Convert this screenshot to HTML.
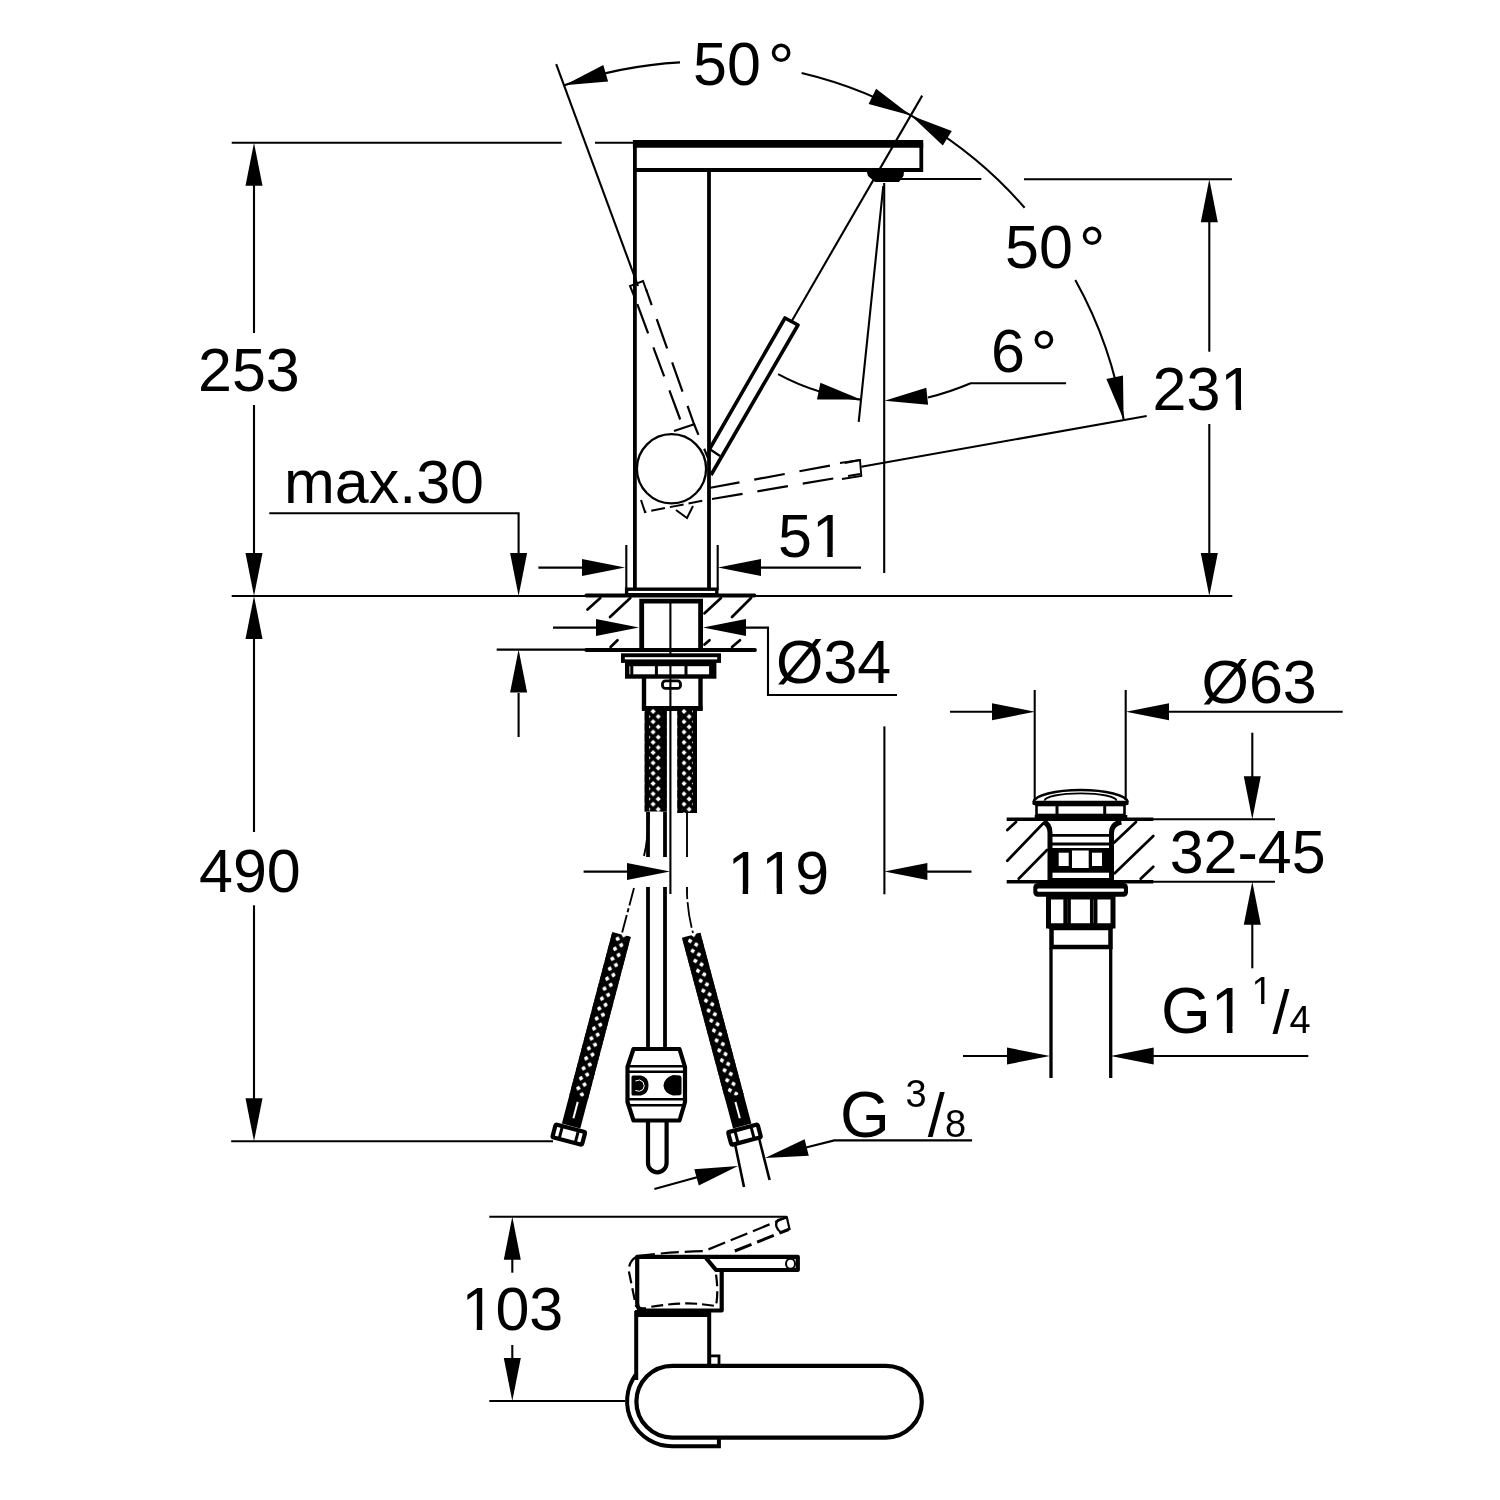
<!DOCTYPE html>
<html><head><meta charset="utf-8"><title>Dimensional drawing</title>
<style>
html,body{margin:0;padding:0;background:#fff}
svg{display:block;font-family:"Liberation Sans",sans-serif}
svg text{stroke:none;fill:#000;font-kerning:none}
svg .f{fill:#000;stroke:none}
</style></head><body>
<svg width="1500" height="1500" viewBox="0 0 1500 1500">
<defs>
<pattern id="br" x="647.95" y="706.3" width="10.3" height="10.3" patternUnits="userSpaceOnUse">
<rect width="10.3" height="10.3" fill="#000" stroke="none"/>
<path d="M5.15,2.55 L7.75,5.15 L5.15,7.75 L2.55,5.15 Z M0,-2.6 L2.6,0 L0,2.6 L-2.6,0 Z M10.3,-2.6 L12.9,0 L10.3,2.6 L7.7,0 Z M0,7.7 L2.6,10.3 L0,12.9 L-2.6,10.3 Z M10.3,7.7 L12.9,10.3 L10.3,12.9 L7.7,10.3 Z" fill="#fff" stroke="none"/>
</pattern>
<pattern id="br2" x="-7.8" y="0" width="10.3" height="10.3" patternUnits="userSpaceOnUse">
<rect width="10.3" height="10.3" fill="#000" stroke="none"/>
<path d="M5.15,2.55 L7.75,5.15 L5.15,7.75 L2.55,5.15 Z M0,-2.6 L2.6,0 L0,2.6 L-2.6,0 Z M10.3,-2.6 L12.9,0 L10.3,2.6 L7.7,0 Z M0,7.7 L2.6,10.3 L0,12.9 L-2.6,10.3 Z M10.3,7.7 L12.9,10.3 L10.3,12.9 L7.7,10.3 Z" fill="#fff" stroke="none"/>
</pattern>
<filter id="soft" x="0" y="0" width="1500" height="1500" filterUnits="userSpaceOnUse"><feGaussianBlur stdDeviation="0.45"/></filter>
</defs>
<rect x="0" y="0" width="1500" height="1500" style="fill:#fff;stroke:none"/>
<g stroke="#000" fill="none" filter="url(#soft)">
<line x1="231.7" y1="142.7" x2="561.7" y2="142.7" stroke-width="2.1" />
<line x1="595.0" y1="142.7" x2="634.0" y2="142.7" stroke-width="2.1" />
<line x1="231.7" y1="596.0" x2="586.0" y2="596.0" stroke-width="2.1" />
<line x1="755.0" y1="596.0" x2="1232.3" y2="596.0" stroke-width="2.1" />
<line x1="231.2" y1="1141.3" x2="553.0" y2="1141.3" stroke-width="2.1" />
<polygon class="f" points="254.0,142.7 262.5,185.7 245.5,185.7"/>
<line x1="254.0" y1="184.0" x2="254.0" y2="333.0" stroke-width="2.1" />
<line x1="254.0" y1="405.0" x2="254.0" y2="553.0" stroke-width="2.1" />
<polygon class="f" points="254.0,596.0 245.5,553.0 262.5,553.0"/>
<polygon class="f" points="254.0,596.0 262.5,639.0 245.5,639.0"/>
<line x1="254.0" y1="638.0" x2="254.0" y2="832.0" stroke-width="2.1" />
<line x1="254.0" y1="905.3" x2="254.0" y2="1099.0" stroke-width="2.1" />
<polygon class="f" points="254.0,1141.3 245.5,1098.3 262.5,1098.3"/>
<text x="198.0" y="391.1" font-size="61" >253</text>
<text x="199.0" y="891.5" font-size="61" >490</text>
<text x="284.0" y="502.5" font-size="61" >max.30</text>
<polyline points="269.3,513.3 518.6,513.3 518.6,553.0" stroke-width="2.1" />
<polygon class="f" points="518.6,596.0 510.1,553.0 527.1,553.0"/>
<polygon class="f" points="518.6,649.6 527.1,692.6 510.1,692.6"/>
<line x1="518.6" y1="693.0" x2="518.6" y2="737.0" stroke-width="2.1" />
<line x1="496.7" y1="649.6" x2="586.0" y2="649.6" stroke-width="2.1" />
<line x1="1024.0" y1="179.3" x2="1232.0" y2="179.3" stroke-width="2.1" />
<polygon class="f" points="1209.3,179.3 1217.8,222.3 1200.8,222.3"/>
<line x1="1209.3" y1="221.0" x2="1209.3" y2="351.7" stroke-width="2.1" />
<line x1="1209.3" y1="424.0" x2="1209.3" y2="553.0" stroke-width="2.1" />
<polygon class="f" points="1209.3,596.0 1200.8,553.0 1217.8,553.0"/>
<text x="1152.5" y="410.1" font-size="61" >231</text>
<path d="M564.4,85.3 A425.0,425.0 0 0 1 680.0,62.4" stroke-width="2.1" />
<path d="M801.6,73.1 A425.0,425.0 0 0 1 1024.6,207.7" stroke-width="2.1" />
<path d="M1075.3,280.0 A425.0,425.0 0 0 1 1123.6,419.4" stroke-width="2.1" />
<polygon class="f" points="564.4,85.3 603.3,65.1 608.1,81.4"/>
<polygon class="f" points="910.9,115.4 868.6,104.1 876.1,88.8"/>
<polygon class="f" points="910.9,115.4 951.8,131.0 942.8,145.4"/>
<polygon class="f" points="1123.6,419.4 1106.4,379.1 1123.0,375.6"/>
<line x1="556.2" y1="64.2" x2="638.0" y2="286.0" stroke-width="2.1" />
<line x1="922.2" y1="95.6" x2="791.5" y2="321.5" stroke-width="2.1" />
<line x1="861.3" y1="466.7" x2="1146.7" y2="416.0" stroke-width="2.1" />
<text x="693.0" y="84.6" font-size="61" >50<tspan dx="7" dy="5" font-size="67">°</tspan></text>
<text x="1005.0" y="267.5" font-size="61" >50<tspan dx="6" dy="5" font-size="67">°</tspan></text>
<path d="M778.1,374.1 A220.2,220.2 0 0 0 860.8,399.6" stroke-width="2.1" />
<polygon class="f" points="860.8,399.6 817.0,399.4 820.4,382.8"/>
<polygon class="f" points="884.5,400.7 926.3,387.8 928.1,404.7"/>
<path d="M928,397.5 Q950,392 970.7,383.2 L1066.1,383.2" stroke-width="2.1" />
<line x1="883.3" y1="186.0" x2="858.7" y2="421.9" stroke-width="2.1" />
<line x1="884.2" y1="183.0" x2="884.2" y2="573.0" stroke-width="2.1" />
<line x1="884.4" y1="726.4" x2="884.4" y2="894.3" stroke-width="2.1" />
<text x="991.0" y="372.3" font-size="61" >6<tspan dx="5.5" dy="5" font-size="67">°</tspan></text>
<line x1="632.9" y1="143.8" x2="923.2" y2="143.8" stroke-width="7.8" />
<polyline points="634.9,143.0 634.9,589.0" stroke-width="3.8" />
<polyline points="634.9,170.0 921.3,170.0 921.3,143.0" stroke-width="3.8" />
<line x1="709.0" y1="170.0" x2="709.0" y2="589.0" stroke-width="3.8" />
<polygon class="f" points="866.7,171.5 904,171.5 903.5,176 899,182 875,182 868,176"/>
<line x1="899.0" y1="179.0" x2="981.3" y2="179.0" stroke-width="2.1" />
<circle cx="671.5" cy="468.8" r="34.6" stroke-width="2.3"/>
<polyline points="709.6,449.0 785.0,318.0 798.0,325.0 711.0,475.0" stroke-width="3.6" stroke-linejoin="round"/>
<line x1="709.6" y1="449.0" x2="720.0" y2="456.0" stroke-width="2.2" />
<polyline points="683.0,427.0 633.5,294.0" stroke-width="2.2" stroke-dasharray="31 15" stroke-dashoffset="38"/>
<polyline points="634.5,297.0 630.0,286.0 643.0,281.0 647.0,292.0" stroke-width="2" />
<polyline points="646.0,289.0 694.0,424.0 708.0,458.0" stroke-width="2.2" stroke-dasharray="31 15" stroke-dashoffset="14"/>
<line x1="674.0" y1="431.0" x2="695.0" y2="424.0" stroke-width="2.2" />
<polyline points="709.0,488.0 860.0,460.0" stroke-width="2.2" stroke-dasharray="31 15"/>
<polyline points="712.0,499.0 860.0,474.0" stroke-width="2.2" stroke-dasharray="31 15"/>
<polyline points="840.0,463.0 860.0,460.0 861.3,476.0 842.0,479.0" stroke-width="1.9" />
<polyline points="641.0,500.0 645.0,512.0 706.0,500.0" stroke-width="2" stroke-dasharray="14 5"/>
<polyline points="676.0,510.0 687.0,518.0 693.0,506.0" stroke-width="2" />
<rect x="626.6" y="589.2" width="90.2" height="5.5" stroke-width="3.4" />
<line x1="626.3" y1="545.0" x2="626.3" y2="590.0" stroke-width="2.1" />
<line x1="717.7" y1="545.0" x2="717.7" y2="590.0" stroke-width="2.1" />
<line x1="538.4" y1="567.6" x2="583.0" y2="567.6" stroke-width="2.1" />
<polygon class="f" points="625.0,567.6 582.0,576.1 582.0,559.1"/>
<polygon class="f" points="718.0,567.6 761.0,559.1 761.0,576.1"/>
<line x1="760.0" y1="567.6" x2="861.0" y2="567.6" stroke-width="2.1" />
<text x="778.0" y="556.8" font-size="61" >51</text>
<line x1="586.3" y1="595.5" x2="754.5" y2="595.5" stroke-width="3.8" stroke-linecap="round"/>
<line x1="586.3" y1="650.0" x2="755.0" y2="650.0" stroke-width="3.8" stroke-linecap="round"/>
<line x1="587.5" y1="609.5" x2="600.3" y2="598.0" stroke-width="2.7" stroke-linecap="round"/>
<line x1="610.0" y1="617.0" x2="630.3" y2="598.0" stroke-width="2.7" stroke-linecap="round"/>
<line x1="610.6" y1="647.0" x2="617.5" y2="640.2" stroke-width="2.7" stroke-linecap="round"/>
<line x1="704.5" y1="613.3" x2="721.0" y2="598.0" stroke-width="2.7" stroke-linecap="round"/>
<line x1="732.0" y1="617.0" x2="751.0" y2="598.0" stroke-width="2.7" stroke-linecap="round"/>
<line x1="704.5" y1="644.6" x2="709.5" y2="640.2" stroke-width="2.7" stroke-linecap="round"/>
<line x1="732.0" y1="647.0" x2="740.0" y2="640.3" stroke-width="2.7" stroke-linecap="round"/>
<polyline points="641.7,649.0 641.7,601.2 700.6,601.2 700.6,649.0" stroke-width="4.8" />
<line x1="670.4" y1="602.0" x2="670.4" y2="894.0" stroke-width="2.1" />
<line x1="553.0" y1="627.6" x2="598.0" y2="627.6" stroke-width="2.1" />
<polygon class="f" points="639.0,627.6 596.0,636.1 596.0,619.1"/>
<polygon class="f" points="703.0,627.6 746.0,619.1 746.0,636.1"/>
<polyline points="744.0,627.6 768.0,627.6 768.0,695.0 897.0,695.0" stroke-width="2.1" />
<text x="776.0" y="682.5" font-size="61" >Ø34</text>
<rect class="f" x="621" y="653.3" width="100" height="9.6"/>
<rect x="624.8" y="657.2" width="92.4" height="2.2" fill="#fff" stroke="none"/>
<rect x="627.2" y="664.0" width="87.0" height="12.5" stroke-width="4.4" />
<line x1="631.8" y1="662.0" x2="631.8" y2="676.0" stroke-width="3" />
<line x1="656.4" y1="662.0" x2="656.4" y2="676.0" stroke-width="3" />
<line x1="686.0" y1="662.0" x2="686.0" y2="676.0" stroke-width="3" />
<line x1="710.6" y1="662.0" x2="710.6" y2="676.0" stroke-width="3" />
<polyline points="644.0,677.0 644.0,708.2 700.5,708.2 700.5,677.0" stroke-width="4.4" />
<line x1="642.0" y1="708.5" x2="702.5" y2="708.5" stroke-width="5" />
<rect x="662.5" y="680.8" width="18" height="7.6" rx="3" stroke-width="2.8"/>
<rect x="644.7" y="709" width="22" height="102.5" stroke="none" fill="url(#br)"/>
<line x1="646.9" y1="709.0" x2="646.9" y2="811.5" stroke-width="4.4" />
<line x1="663.9" y1="709.0" x2="663.9" y2="811.5" stroke-width="5.6" />
<rect x="677.4" y="709" width="19.6" height="104" stroke="none" fill="url(#br)"/>
<line x1="679.5" y1="709.0" x2="679.5" y2="813.0" stroke-width="4.2" />
<line x1="694.9" y1="709.0" x2="694.9" y2="813.0" stroke-width="4.2" />
<line x1="648.0" y1="812.0" x2="648.0" y2="857.0" stroke-width="3.8" />
<line x1="665.0" y1="812.0" x2="665.0" y2="857.0" stroke-width="3.8" />
<line x1="648.0" y1="887.0" x2="648.0" y2="1047.0" stroke-width="3.8" />
<line x1="665.0" y1="887.0" x2="665.0" y2="1047.0" stroke-width="3.8" />
<line x1="687.0" y1="812.0" x2="687.0" y2="857.0" stroke-width="1.9" />
<line x1="687.0" y1="887.0" x2="687.0" y2="894.0" stroke-width="1.9" />
<path d="M687,894 Q688,915 693,933" stroke-width="1.8" stroke-dasharray="5 3 26 3"/>
<path d="M649,812 Q648,840 644,856" stroke-width="1.9" />
<path d="M634,888 L622,933" stroke-width="1.9" stroke-dasharray="18 3 4 3"/>
<line x1="583.6" y1="871.6" x2="628.0" y2="871.6" stroke-width="2.1" />
<polygon class="f" points="670.0,871.6 627.0,880.1 627.0,863.1"/>
<polygon class="f" points="884.4,871.6 927.4,863.1 927.4,880.1"/>
<line x1="926.0" y1="871.6" x2="971.5" y2="871.6" stroke-width="2.1" />
<text x="727.4" y="893.8" font-size="61" >119</text>
<g transform="translate(621.5,934.5) rotate(14.75)">
<rect x="-9.50" y="0" width="19.0" height="168.0" stroke="none" fill="url(#br2)"/>
<line x1="-7.20" y1="0" x2="-7.20" y2="168.0" stroke-width="4.6"/>
<line x1="7.20" y1="0" x2="7.20" y2="168.0" stroke-width="4.6"/>
<rect class="f" x="-9.50" y="167.0" width="19.0" height="31"/>
<rect x="-0.7" y="173.0" width="2" height="17" fill="#fff" stroke="none"/>
<rect x="-15.3" y="200.4" width="30.6" height="13.2" stroke-width="4.2" fill="#fff" rx="1.5"/>
<line x1="-8.3" y1="200.4" x2="-8.3" y2="213.6" stroke-width="3"/>
<line x1="8.3" y1="200.4" x2="8.3" y2="213.6" stroke-width="3"/>
</g>
<g transform="translate(691.2,935.3) rotate(-14.97)">
<rect x="-9.50" y="0" width="19.0" height="167.4" stroke="none" fill="url(#br2)"/>
<line x1="-7.20" y1="0" x2="-7.20" y2="167.4" stroke-width="4.6"/>
<line x1="7.20" y1="0" x2="7.20" y2="167.4" stroke-width="4.6"/>
<rect class="f" x="-9.50" y="166.4" width="19.0" height="31"/>
<rect x="-1.3" y="172.4" width="2" height="17" fill="#fff" stroke="none"/>
<rect x="-15.3" y="199.8" width="30.6" height="13.2" stroke-width="4.2" fill="#fff" rx="1.5"/>
<line x1="-8.3" y1="199.8" x2="-8.3" y2="213.0" stroke-width="3"/>
<line x1="8.3" y1="199.8" x2="8.3" y2="213.0" stroke-width="3"/>
</g>
<line x1="735.0" y1="1144.0" x2="744.0" y2="1187.0" stroke-width="2.6" />
<line x1="759.0" y1="1138.0" x2="769.6" y2="1180.0" stroke-width="2.6" />
<path d="M633.5,1049 L679.5,1049 L685,1067 L685,1102 L679.5,1120.5 L633.5,1120.5 L627.5,1102 L627.5,1067 Z" stroke-width="4.2" stroke-linejoin="round" fill="#fff"/>
<line x1="627.0" y1="1066.2" x2="686.0" y2="1066.2" stroke-width="2.6" />
<line x1="627.0" y1="1071.7" x2="686.0" y2="1071.7" stroke-width="2.6" />
<line x1="627.0" y1="1099.2" x2="686.0" y2="1099.2" stroke-width="2.6" />
<line x1="627.0" y1="1105.2" x2="686.0" y2="1105.2" stroke-width="2.6" />
<path class="f" d="M633,1075.5 L641,1075.5 Q648.5,1077 648.5,1085.5 Q648.5,1094 641,1095.5 L633,1095.5 Q631.5,1095.5 631.5,1094 L631.5,1077 Q631.5,1075.5 633,1075.5 Z"/>
<path d="M635.3,1081 Q640,1078.5 643,1082 Q645.5,1086 643,1089.5 Q640,1092.5 635.3,1090.5" stroke="#fff" stroke-width="1"/>
<path class="f" d="M673,1075 L680,1075.5 Q681.5,1076 681.5,1078 L681.5,1093 Q681.5,1095 680,1095.3 L673,1095.5 Q664,1093 663.5,1085.5 Q664,1078 673,1075 Z"/>
<path d="M648,1121 L648,1163 A9.3,9.3 0 0 0 666.6,1163 L666.6,1121" stroke-width="4.2" />
<polygon class="f" points="738.0,1166.0 698.8,1185.6 694.3,1169.2"/>
<line x1="654.4" y1="1189.0" x2="697.0" y2="1177.3" stroke-width="2.1" />
<polygon class="f" points="765.0,1158.0 804.6,1139.2 808.8,1155.7"/>
<polyline points="806.0,1147.6 834.3,1140.4 972.1,1140.4" stroke-width="2.1" />
<text x="840.0" y="1137.1" font-size="64" >G</text>
<text x="905.5" y="1107.0" font-size="38" >3</text>
<text x="927.8" y="1136.0" font-size="61" >/</text>
<text x="945.0" y="1137.1" font-size="38" >8</text>
<line x1="950.0" y1="711.7" x2="993.0" y2="711.7" stroke-width="2.1" />
<polygon class="f" points="1035.0,711.7 992.0,720.2 992.0,703.2"/>
<polygon class="f" points="1126.0,711.7 1169.0,703.2 1169.0,720.2"/>
<line x1="1168.0" y1="711.7" x2="1342.7" y2="711.7" stroke-width="2.1" />
<line x1="1034.7" y1="690.0" x2="1034.7" y2="800.0" stroke-width="2.1" />
<line x1="1125.7" y1="690.0" x2="1125.7" y2="800.0" stroke-width="2.1" />
<text x="1201.5" y="702.5" font-size="61" >Ø63</text>
<path d="M1033.5,802 A47.2,12.5 0 0 1 1127.8,802" stroke-width="2.6" />
<path d="M1044.5,800.8 A36,7.5 0 0 1 1116.5,800.8" stroke-width="1.8" />
<line x1="1034.5" y1="803.0" x2="1126.5" y2="803.0" stroke-width="4.5" stroke-linecap="round"/>
<rect x="1036.5" y="805.0" width="88.0" height="10.0" stroke-width="2.6" />
<line x1="1057.0" y1="805.0" x2="1057.0" y2="815.0" stroke-width="3" />
<line x1="1104.7" y1="805.0" x2="1104.7" y2="815.0" stroke-width="3" />
<line x1="1034.7" y1="818.0" x2="1127.3" y2="818.0" stroke-width="6" />
<line x1="1006.7" y1="819.3" x2="1153.3" y2="819.3" stroke-width="3.6" />
<line x1="1153.0" y1="819.3" x2="1275.0" y2="819.3" stroke-width="2.1" />
<line x1="1006.7" y1="881.7" x2="1153.3" y2="881.7" stroke-width="3.6" />
<line x1="1153.0" y1="881.7" x2="1275.0" y2="881.7" stroke-width="2.1" />
<line x1="1007.3" y1="830.0" x2="1016.0" y2="822.0" stroke-width="2.7" stroke-linecap="round"/>
<line x1="1007.3" y1="860.7" x2="1043.3" y2="823.3" stroke-width="2.7" stroke-linecap="round"/>
<line x1="1018.7" y1="878.7" x2="1047.0" y2="850.0" stroke-width="2.7" stroke-linecap="round"/>
<line x1="1114.0" y1="842.7" x2="1136.0" y2="822.0" stroke-width="2.7" stroke-linecap="round"/>
<line x1="1114.7" y1="873.3" x2="1153.3" y2="836.0" stroke-width="2.7" stroke-linecap="round"/>
<line x1="1140.7" y1="878.7" x2="1153.3" y2="866.7" stroke-width="2.7" stroke-linecap="round"/>
<path d="M1043.3,822 Q1050,824 1050,833 L1050,881" stroke-width="5" />
<path d="M1121.3,822 Q1111.5,824 1111.5,833 L1111.5,881" stroke-width="5" />
<line x1="1050.0" y1="835.3" x2="1111.5" y2="835.3" stroke-width="2.8" />
<line x1="1050.0" y1="844.0" x2="1111.5" y2="844.0" stroke-width="2.8" />
<rect class="f" x="1052" y="848" width="57" height="24.7"/>
<rect x="1058.7" y="852.7" width="10" height="13.3" fill="#fff" stroke="none"/>
<rect x="1092" y="852.7" width="10" height="13.3" fill="#fff" stroke="none"/>
<rect x="1072" y="850.5" width="16.7" height="17.5" fill="#fff" stroke="none"/>
<rect class="f" x="1033.3" y="883" width="94.7" height="13.7" rx="4.5"/>
<rect x="1037.3" y="888.4" width="86.7" height="3.3" rx="1" fill="#fff" stroke="none"/>
<line x1="1050.0" y1="880.5" x2="1111.5" y2="880.5" stroke-width="5" />
<rect x="1048.5" y="897.0" width="64.5" height="29.0" stroke-width="5" />
<line x1="1065.2" y1="897.0" x2="1065.2" y2="926.0" stroke-width="3.7" />
<line x1="1069.0" y1="897.0" x2="1069.0" y2="926.0" stroke-width="3.7" />
<line x1="1091.8" y1="897.0" x2="1091.8" y2="926.0" stroke-width="3.7" />
<line x1="1095.6" y1="897.0" x2="1095.6" y2="926.0" stroke-width="3.7" />
<line x1="1048.0" y1="926.0" x2="1113.0" y2="926.0" stroke-width="5" />
<rect x="1051.5" y="928.0" width="59.0" height="19.0" stroke-width="4.5" />
<line x1="1051.0" y1="948.0" x2="1051.0" y2="1078.0" stroke-width="3.3" />
<line x1="1110.7" y1="948.0" x2="1110.7" y2="1078.0" stroke-width="3.3" />
<line x1="1252.3" y1="732.7" x2="1252.3" y2="777.0" stroke-width="2.1" />
<polygon class="f" points="1252.3,819.3 1243.8,776.3 1260.8,776.3"/>
<polygon class="f" points="1252.3,881.7 1260.8,924.7 1243.8,924.7"/>
<line x1="1252.3" y1="923.0" x2="1252.3" y2="968.3" stroke-width="2.1" />
<text x="1169.7" y="872.5" font-size="61" >32-45</text>
<line x1="963.0" y1="1056.0" x2="1008.0" y2="1056.0" stroke-width="2.1" />
<polygon class="f" points="1050.0,1056.0 1007.0,1064.5 1007.0,1047.5"/>
<polygon class="f" points="1110.7,1056.0 1153.7,1047.5 1153.7,1064.5"/>
<line x1="1153.0" y1="1056.0" x2="1308.3" y2="1056.0" stroke-width="2.1" />
<text x="1161.0" y="1032.5" font-size="64" >G1</text>
<text x="1251.5" y="1003.6" font-size="38" >1</text>
<text x="1272.6" y="1032.6" font-size="61" >/</text>
<text x="1289.5" y="1032.5" font-size="38" >4</text>
<line x1="489.3" y1="1216.7" x2="786.8" y2="1216.7" stroke-width="2.1" />
<line x1="489.3" y1="1401.0" x2="625.3" y2="1401.0" stroke-width="2.1" />
<polygon class="f" points="512.3,1216.7 520.8,1259.7 503.8,1259.7"/>
<line x1="512.3" y1="1259.0" x2="512.3" y2="1272.7" stroke-width="2.1" />
<line x1="512.3" y1="1345.0" x2="512.3" y2="1359.0" stroke-width="2.1" />
<polygon class="f" points="512.3,1401.0 503.8,1358.0 520.8,1358.0"/>
<text x="461.5" y="1330.1" font-size="61" >103</text>
<path d="M672.3,1365.8 L885.9,1365.8 A35.9,35.9 0 0 1 885.9,1437.6 L672.3,1437.6 A35.9,35.9 0 0 1 672.3,1365.8 Z" stroke-width="4.2" />
<path d="M635.5,1375 A45,45 0 0 0 672.3,1446.2 L718.9,1446.2 L718.9,1438" stroke-width="4.0" />
<polyline points="636.2,1380.0 636.2,1313.0 709.2,1313.0 709.2,1364.0" stroke-width="4.0" />
<line x1="635.0" y1="1313.5" x2="711.0" y2="1313.5" stroke-width="7" />
<polyline points="710.0,1355.8 719.0,1355.8 719.0,1364.0" stroke-width="2.8" />
<path d="M721.7,1270 L721.7,1310.5 L644,1310.5 Q637.2,1310.5 637.2,1303 L637.2,1256.8 L797.8,1256.8 L797.8,1270 L716,1270 L706,1258" stroke-width="4.2" stroke-linejoin="round"/>
<ellipse cx="790.5" cy="1263.7" rx="4.5" ry="5" stroke-width="2"/>
<path d="M637,1256 Q670,1252 704.5,1251 L786.8,1217.3" stroke-width="2.2" stroke-dasharray="18 6"/>
<path d="M734.8,1251 L788.6,1229.5" stroke-width="3" stroke-dasharray="18 6"/>
<path d="M636,1257 Q628,1262 629,1272 L636,1306 Q640,1310 650,1307 Q680,1302 700,1304 L716,1306 Q719,1290 715,1268 L704,1256" stroke-width="2.2" stroke-dasharray="12 5"/>
<path d="M786.8,1217.3 L789.5,1229 L781,1232.5 Q773,1226 778,1220 Z" stroke-width="2.2" />
<rect x="1224.2" y="404.9" width="11.5" height="6.0" fill="#fff" stroke="none"/>
<rect x="1241.1" y="404.9" width="11.0" height="6.0" fill="#fff" stroke="none"/>
<rect x="815.8" y="551.6" width="11.5" height="6.0" fill="#fff" stroke="none"/>
<rect x="832.7" y="551.6" width="11.0" height="6.0" fill="#fff" stroke="none"/>
<rect x="731.2" y="888.6" width="11.5" height="6.0" fill="#fff" stroke="none"/>
<rect x="748.1" y="888.6" width="11.0" height="6.0" fill="#fff" stroke="none"/>
<rect x="765.2" y="888.6" width="11.5" height="6.0" fill="#fff" stroke="none"/>
<rect x="782.1" y="888.6" width="11.0" height="6.0" fill="#fff" stroke="none"/>
<rect x="1214.9" y="1027.1" width="12.0" height="6.2" fill="#fff" stroke="none"/>
<rect x="1232.5" y="1027.1" width="11.5" height="6.2" fill="#fff" stroke="none"/>
<rect x="1253.6" y="1000.2" width="7.5" height="4.2" fill="#fff" stroke="none"/>
<rect x="1264.4" y="1000.2" width="7.2" height="4.2" fill="#fff" stroke="none"/>
<rect x="465.3" y="1324.9" width="11.5" height="6.0" fill="#fff" stroke="none"/>
<rect x="482.2" y="1324.9" width="11.0" height="6.0" fill="#fff" stroke="none"/>
</g>
</svg>
</body></html>
